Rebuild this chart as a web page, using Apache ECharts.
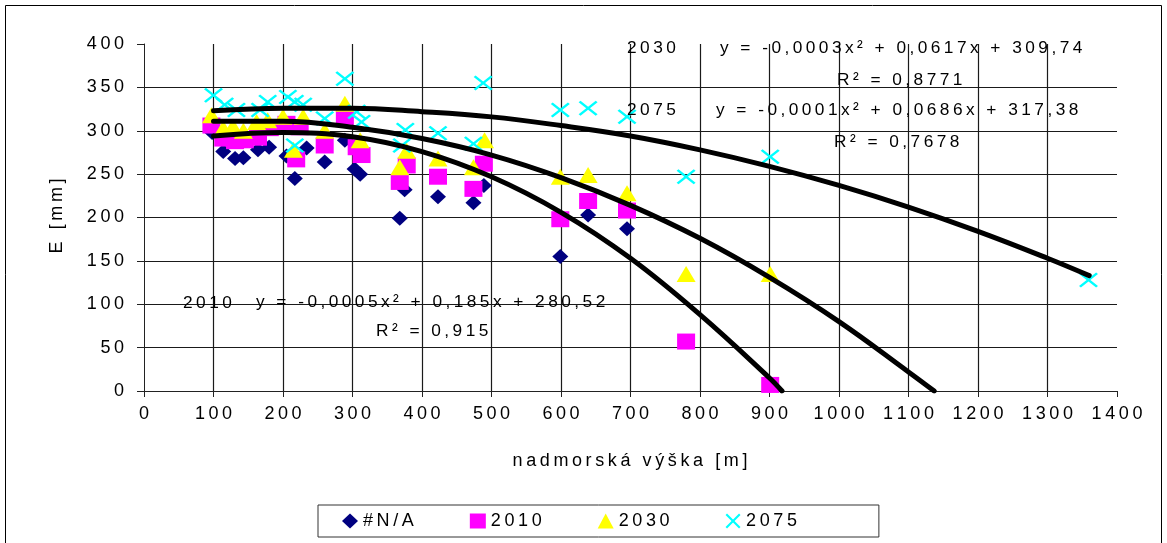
<!DOCTYPE html>
<html>
<head>
<meta charset="utf-8">
<script src="https://cdn.jsdelivr.net/npm/echarts@6/dist/echarts.min.js"></script>
<style>
html,body{margin:0;padding:0;background:#fff;}
#c{width:1167px;height:543px;}
</style>
</head>
<body>
<div id="c"></div>
<script>
// ---- data ----
const seriesNames = ['#N/A', '2010', '2030', '2075'];

const naData = [[98,298],[114,276],[131,268],[143,269],[164,278],[180,281],[205,271],[217,245],[234,280],[260,264],[289,289],[303,256],[311,250],[368,199],[375,232],[423,224],[474,217],[489,237],[599,155],[639,203],[695,187]];

const data2010 = [[97,306],[114,291],[131,288],[145,289],[164,292],[181,303],[205,308],[219,267],[224,304],[260,283],[289,316],[306,281],[313,272],[368,241],[378,260],[423,247],[474,233],[489,262],[599,198],[639,219],[695,208],[780,57],[901,7]];

const data2030 = [[97,318],[114,303],[128,305],[143,300],[162,310],[178,312],[200,316],[215,278],[229,316],[260,300],[289,331],[311,289],[368,258],[378,277],[423,268],[474,258],[490,289],[599,247],[639,249],[695,228],[780,135],[901,135]];

const data2075 = [[100,341],[116,330],[133,324],[167,324],[178,333],[207,339],[217,333],[217,283],[229,330],[260,314],[289,360],[306,322],[313,310],[371,283],[376,301],[423,297],[474,285],[488,355],[599,324],[639,326],[695,316],[780,247],[901,270],[1359,128]];

// trend curves
const curve2010 = [[100,294],[200,298],[300,293],[400,276],[500,247],[600,206],[700,153],[800,88],[900,15],[918,0]];
const curve2030 = [[100,311],[200,311],[300,304],[400,291],[500,272],[600,246],[700,214],[800,176],[900,131],[1000,80],[1100,22],[1137,0]];
const curve2075 = [[100,323],[200,326],[300,326],[400,322],[500,316],[600,306],[700,294],[800,278],[900,259],[1000,237],[1100,212],[1200,184],[1300,153],[1360,133]];

const xTickStep = 100, xMax = 1400;
const yTickStep = 50, yMax = 400;

const annotations = [
  {text:'2030', x:627, y:48},
  {text:'y = -0,0003x² + 0,0617x + 309,74', x:720, y:48},
  {text:'R² = 0,8771', x:837, y:80},
  {text:'2075', x:627, y:110},
  {text:'y = -0,0001x² + 0,0686x + 317,38', x:716, y:110},
  {text:'R² = 0,7678', x:834, y:142},
  {text:'2010', x:183, y:303},
  {text:'y = -0,0005x² + 0,185x + 280,52', x:256, y:302},
  {text:'R² = 0,915', x:376, y:331}
];

// ---- chart ----
const FONT = '"Liberation Sans", Arial, sans-serif';
const sp = s => String(s).split('').join('\u2009');
const XPATH = 'path://M0,2 L2,0 L10,8 L18,0 L20,2 L12,10 L20,18 L18,20 L10,12 L2,20 L0,18 L8,10 Z';

const chart = echarts.init(document.getElementById('c'), null, {renderer:'canvas'});

const lineSeries = (d) => ({
  type:'line', data:d, smooth:0.4, showSymbol:false, silent:true, z:5,
  lineStyle:{color:'#000', width:5, cap:'round'}
});

const gridLine = {show:true, showMinLine:false, showMaxLine:false, lineStyle:{color:'#1a1a1a', width:1.2, type:'solid'}};

const graphics = [
  {type:'rect', shape:{x:5.5, y:5.5, width:1156, height:570}, style:{fill:'none', stroke:'#000', lineWidth:1}, z:-1, silent:true},
  {type:'text', x:57, y:216, rotation:Math.PI/2, style:{text:sp('E [mm]'), font:'18px ' + FONT, fill:'#000', textAlign:'center', textVerticalAlign:'middle'}},
  {type:'text', x:630, y:461, style:{text:sp('nadmorská výška [m]'), font:'18px ' + FONT, fill:'#000', textAlign:'center', textVerticalAlign:'middle'}}
];
annotations.forEach(a => graphics.push({
  type:'text', x:a.x, y:a.y, z:10,
  style:{text:sp(a.text), font:'17.3px ' + FONT, fill:'#000', textAlign:'left', textVerticalAlign:'middle'}
}));

chart.setOption({
  animation:false,
  backgroundColor:'#fff',
  textStyle:{fontFamily:FONT},
  grid:{left:144, right:50, top:44, bottom:152, containLabel:false},
  xAxis:{
    type:'value', min:0, max:xMax, interval:xTickStep,
    axisLine:{show:true, lineStyle:{color:'#222', width:1}},
    axisTick:{show:true, length:6, lineStyle:{color:'#222'}},
    axisLabel:{margin:14, fontSize:18, color:'#000', fontFamily:FONT, formatter:v => sp(v)},
    splitLine:gridLine
  },
  yAxis:{
    type:'value', min:0, max:yMax, interval:yTickStep,
    axisLine:{show:true, lineStyle:{color:'#222', width:1}},
    axisTick:{show:true, length:7, lineStyle:{color:'#222'}},
    axisLabel:{margin:20, fontSize:18, color:'#000', fontFamily:FONT, formatter:v => sp(v)},
    splitLine:gridLine
  },
  legend:{
    left:318, top:505,
    data:[
      {name:seriesNames[0], icon:'diamond'},
      {name:seriesNames[1], icon:'rect'},
      {name:seriesNames[2], icon:'triangle'},
      {name:seriesNames[3], icon:XPATH}
    ],
    itemWidth:16, itemHeight:15, itemGap:56,
    padding:[7, 82, 7, 24],
    borderColor:'#333', borderWidth:1,
    textStyle:{fontSize:18, color:'#000', fontFamily:FONT},
    formatter:n => sp(n)
  },
  graphic:graphics,
  series:[
    {name:seriesNames[0], type:'scatter', data:naData, symbol:'diamond', symbolSize:[16,15], itemStyle:{color:'#000080', opacity:1}, z:2},
    {name:seriesNames[1], type:'scatter', data:data2010, symbol:'rect', symbolSize:[18,16], itemStyle:{color:'#FF00FF', opacity:1}, z:2},
    {name:seriesNames[2], type:'scatter', data:data2030, symbol:'triangle', symbolSize:[19,16], itemStyle:{color:'#FFFF00', opacity:1}, z:2},
    {name:seriesNames[3], type:'scatter', data:data2075, symbol:XPATH, symbolSize:[19,15], itemStyle:{color:'#00FFFF', opacity:1}, z:2},
    lineSeries(curve2010),
    lineSeries(curve2030),
    lineSeries(curve2075)
  ]
});
</script>
</body>
</html>
